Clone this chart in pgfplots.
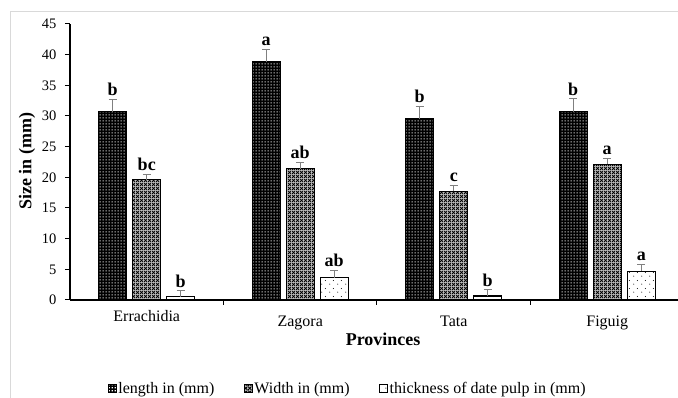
\documentclass[border=0pt]{standalone}
\usepackage{fontspec}
\setmainfont{Liberation Serif}
\usepackage{pgfplots}
\pgfplotsset{compat=1.18}
\usepackage{pgfplotstable}
\usetikzlibrary{patterns,patterns.meta}

\tikzdeclarepattern{
  name=wdots, type=uncolored,
  bounding box={(0pt,0pt) and (3pt,3pt)},
  tile size={(3pt,3pt)},
  code={\fill (0.8pt,0.8pt) rectangle (2.2pt,2.2pt);}
}
\tikzdeclarepattern{
  name=xhatch, type=uncolored,
  bounding box={(0pt,0pt) and (4pt,4pt)},
  tile size={(4pt,4pt)},
  code={\draw[line width=0.9pt] (0pt,0pt) -- (4pt,4pt) (0pt,4pt) -- (4pt,0pt);}
}
\tikzdeclarepattern{
  name=sdots, type=uncolored,
  bounding box={(0pt,0pt) and (8pt,8pt)},
  tile size={(8pt,8pt)},
  code={\fill (2pt,2pt) circle (0.6pt); \fill (6pt,6pt) circle (0.6pt);}
}

\pgfplotstableread{
x y err lab
0 30.7 2.05 b
1 38.8 2.0 a
2 29.5 2.1 b
3 30.7 2.1 b
}\lengthdata
\pgfplotstableread{
x y err lab
0 19.6 0.9 bc
1 21.4 1.0 ab
2 17.7 1.0 c
3 22.1 0.95 a
}\widthdata
\pgfplotstableread{
x y err lab
0 0.55 0.95 b
1 3.65 1.15 ab
2 0.65 1.0 b
3 4.7 1.1 a
}\thickdata

\begin{document}
\begin{tikzpicture}
\begin{axis}[
  scale only axis, width=614pt, height=276pt,
  xmin=-0.5, xmax=3.5, ymin=0, ymax=45,
  axis lines=left,
  axis line style={line width=1.2pt, -},
  ybar=6pt, bar width=28pt,
  ytick={0,5,...,45},
  tick align=outside,
  major tick length=5pt,
  minor tick length=5pt,
  tick style={black, line width=1pt},
  xtick={0,1,2,3},
  xticklabels={\raisebox{5pt}{Errachidia},Zagora,Tata,Figuig},
  major x tick style={draw=none},
  minor xtick={0.5,1.5,2.5},
  xticklabel style={font=\fontsize{16}{18}\selectfont, anchor=base, yshift=-21.5pt},
  yticklabel style={font=\fontsize{14.5}{16}\selectfont, xshift=-5pt},
  /pgf/number format/assume math mode=true,
  xlabel={Provinces},
  ylabel={Size in (mm)},
  xlabel style={font=\fontsize{18}{20}\selectfont\bfseries, at={(axis description cs:0.51,0)}, anchor=base, yshift=-46pt},
  ylabel style={font=\fontsize{18}{20}\selectfont\bfseries, at={(axis description cs:-0.07,0.502)}, anchor=center, rotate=0},
  every axis plot/.append style={draw=black, line width=1.2pt},
  nodes near coords,
  point meta=explicit symbolic,
  visualization depends on={\thisrow{err} \as \errv},
  every node near coord/.append style={font=\fontsize{18}{20}\selectfont\bfseries, anchor=south, inner sep=0pt, yshift={\errv*6.1333pt+3pt}},
  error bars/y dir=plus,
  error bars/y explicit,
  error bars/error bar style={color=black!50, line width=1pt},
  error bars/error mark options={rotate=90, mark size=4pt, line width=1pt, color=black!50},
  legend style={at={(axis description cs:0.452,-0.32)}, anchor=center, draw=none, fill=none,
    legend columns=3, font=\fontsize{16}{18}\selectfont,
    /tikz/every even column/.append style={column sep=28pt},
    nodes={inner sep=1.5pt}},
  legend image code/.code={\draw[#1, line width=1pt] (0pt,-4pt) rectangle (8pt,4pt);},
  clip=false,
]
\addplot[fill=black, postaction={pattern=wdots, pattern color=white}]
  table[x=x, y=y, y error=err, meta=lab] {\lengthdata};
\addplot[fill=black!25, postaction={pattern=xhatch, pattern color=black}]
  table[x=x, y=y, y error=err, meta=lab] {\widthdata};
\addplot[fill=white, postaction={pattern=sdots, pattern color=black}]
  table[x=x, y=y, y error=err, meta=lab] {\thickdata};
\legend{length in (mm), Width in (mm), thickness of date pulp in (mm)}
\end{axis}
\draw[black!15, line width=0.8pt] (-60pt,-98pt) -- (-60pt,289pt) -- (608pt,289pt);
\pgfresetboundingbox
\path[use as bounding box] (-70pt,-98pt) rectangle (608pt,300pt);
\end{tikzpicture}
\end{document}
